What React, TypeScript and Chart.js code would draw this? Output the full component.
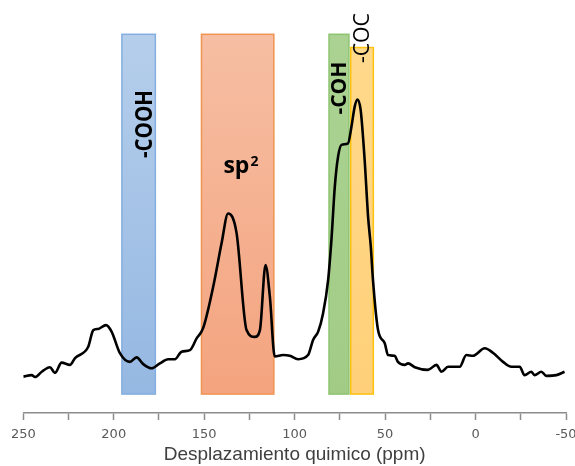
import React, { useEffect, useRef } from "react";
import { Chart, registerables } from "chart.js";

Chart.register(...registerables);

// Spectrum (chemical shift in ppm, intensity in arbitrary units)
const shiftPpm = [
  250, 245.4, 243.5, 239.8, 235.3, 232.5, 228.8, 224.2, 221.4, 214.1, 211.3, 208.6, 204.3, 201.2,
  196.6, 191.1, 187.4, 183.7, 179.1, 174.5, 169.9, 166.2, 162.5, 157.9, 154.2, 150.6, 145.0, 140.4,
  136.8, 132.1, 126.6, 122.0, 119.2, 116.1, 113.7, 111.0, 106.4, 102.7, 98.1, 92.6, 89.8, 87.0,
  84.3, 81.5, 79.6, 77.8, 76.0, 74.1, 70.5, 68.6, 66.8, 65.3, 63.5, 61.3, 59.4, 57.9, 56.7, 53.9,
  50.2, 48.4, 44.7, 42.9, 39.2, 37.3, 33.6, 26.3, 21.6, 18.9, 15.2, 8.8, 5.1, 1.4, -5.1, -9.6,
  -15.2, -19.8, -24.4, -27.1, -30.8, -32.6, -36.4, -39.1, -44.7, -49.2,
];
const intensity = [
  9.6, 10.0, 9.5, 10.9, 12.1, 10.6, 13.3, 12.7, 14.5, 17.5, 21.9, 22.2, 23.2, 21.5,
  15.8, 13.5, 14.7, 12.9, 11.8, 13.1, 14.2, 14.2, 16.2, 16.6, 19.7, 22.4, 33.4, 44.8,
  52.7, 47.5, 21.9, 20.1, 21.9, 39.1, 30.7, 14.9, 15.3, 15.1, 14.2, 15.3, 19.3, 21.5,
  26.3, 35.1, 46.2, 59.8, 67.7, 70.8, 71.2, 75.6, 80.9, 82.8, 80.0, 66.8, 51.8, 43.9, 35.1, 21.9,
  18.4, 15.3, 15.1, 13.5, 12.7, 13.1, 12.1, 11.4, 12.7, 10.9, 12.2, 12.2, 15.3, 15.1, 17.1, 15.9,
  13.5, 12.2, 12.2, 10.0, 10.9, 10.0, 10.9, 9.8, 10.0, 10.9,
];

// Highlighted regions
const bandStart = [195.5, 151.5, 81, 69];
const bandEnd = [177, 111.5, 70, 56.5];
const bandTop = [100, 100, 100, 96.5];
const bandBottom = [5, 5, 5, 5];
const bandTopColor = ["#B5CEEB", "#F6BEA3", "#ABD292", "#FFD98C"];
const bandBottomColor = ["#95B8E2", "#F4A47F", "#A2CC86", "#FFD079"];
const bandBorder = ["#85AEE0", "#F0944F", "#8DC46F", "#FFC20E"];

// Region labels
const labelText = ["-COOH", "-COH", "-COC"];
const labelPpm = [183.3, 75.6, 63.4];
const labelValue = [76.3, 85.8, 99.0];
const labelLength = [68, 53, 50];
const labelFont = ["bold 24px 'Open Sans'", "bold 21px 'Open Sans'", "21px 'Open Sans'"];
const spLabelPpm = 129.7;
const spLabelValue = 63.4;

const xTicks = [250, 225, 200, 175, 150, 125, 100, 75, 50, 25, 0, -25, -50];

const bandsPlugin = {
  id: "bands",
  beforeDatasetsDraw(chart: any) {
    const { ctx, scales } = chart;
    const x = scales.x;
    const y = scales.y;
    for (let i = 0; i < bandStart.length; i++) {
      const x1 = x.getPixelForValue(bandStart[i]);
      const x2 = x.getPixelForValue(bandEnd[i]);
      const y1 = y.getPixelForValue(bandTop[i]);
      const y2 = y.getPixelForValue(bandBottom[i]);
      const g = ctx.createLinearGradient(0, y1, 0, y2);
      g.addColorStop(0, bandTopColor[i]);
      g.addColorStop(1, bandBottomColor[i]);
      ctx.save();
      ctx.fillStyle = g;
      ctx.fillRect(x1, y1, x2 - x1, y2 - y1);
      ctx.strokeStyle = bandBorder[i];
      ctx.lineWidth = 1.5;
      ctx.strokeRect(x1, y1, x2 - x1, y2 - y1);
      ctx.restore();
    }
  },
  afterDatasetsDraw(chart: any) {
    const { ctx, scales } = chart;
    const x = scales.x;
    const y = scales.y;
    for (let i = 0; i < labelText.length; i++) {
      const cx = x.getPixelForValue(labelPpm[i]);
      const cy = y.getPixelForValue(labelValue[i]);
      ctx.save();
      ctx.translate(cx, cy);
      ctx.rotate(-Math.PI / 2);
      ctx.font = labelFont[i];
      const m = ctx.measureText(labelText[i]);
      ctx.scale(labelLength[i] / m.width, 1);
      ctx.fillStyle = "#000";
      ctx.textAlign = "center";
      ctx.textBaseline = "alphabetic";
      const off = (m.actualBoundingBoxAscent - m.actualBoundingBoxDescent) / 2;
      ctx.fillText(labelText[i], 0, off);
      ctx.restore();
    }
    // sp² label
    const sx = x.getPixelForValue(spLabelPpm);
    const sy = y.getPixelForValue(spLabelValue);
    ctx.save();
    ctx.fillStyle = "#000";
    ctx.textBaseline = "alphabetic";
    ctx.font = "bold 23px 'Open Sans'";
    const w1 = ctx.measureText("sp").width;
    ctx.font = "bold 14px 'Open Sans'";
    const w2 = ctx.measureText("2").width;
    const left = sx - (w1 + w2 + 1) / 2;
    ctx.font = "bold 23px 'Open Sans'";
    ctx.textAlign = "left";
    ctx.fillText("sp", left, sy);
    ctx.font = "bold 14px 'Open Sans'";
    ctx.fillText("2", left + w1 + 1, sy - 7);
    ctx.restore();
  },
};

export default function App() {
  const ref = useRef<HTMLCanvasElement>(null);
  useEffect(() => {
    if (!ref.current) return;
    const chart = new Chart(ref.current, {
      type: "line",
      data: {
        datasets: [
          {
            data: shiftPpm.map((p, i) => ({ x: p, y: intensity[i] })),
            borderColor: "#000000",
            borderWidth: 2.6,
            pointRadius: 0,
            cubicInterpolationMode: "monotone",
            fill: false,
          },
        ],
      },
      options: {
        responsive: false,
        animation: false,
        layout: { padding: { left: 23.3, right: 9, top: 34.3, bottom: 0 } },
        plugins: { legend: { display: false }, tooltip: { enabled: false } },
        scales: {
          x: {
            type: "linear",
            reverse: true,
            min: -50,
            max: 250,
            afterBuildTicks: (scale: any) => {
              scale.ticks = xTicks.map((v) => ({ value: v }));
            },
            afterFit: (scale: any) => {
              scale.height = 53;
              scale.paddingLeft = 0;
              scale.paddingRight = 0;
            },
            grid: {
              drawOnChartArea: false,
              drawTicks: true,
              tickLength: 7,
              tickWidth: 1.5,
              tickColor: "#8C8C8C",
            },
            border: { display: true, color: "#8C8C8C", width: 1.5 },
            ticks: {
              autoSkip: false,
              maxRotation: 0,
              padding: 7,
              color: "#595959",
              font: { family: "'DejaVu Sans'", size: 13 },
              callback: (v: any) => (Number(v) % 50 === 0 ? String(v) : ""),
            },
            title: {
              display: true,
              text: "Desplazamiento quimico (ppm)",
              color: "#404040",
              font: { family: "'Liberation Sans'", size: 19 },
              padding: { top: 0, bottom: 0 },
            },
          },
          y: { display: false, min: 0, max: 100 },
        },
      },
      plugins: [bandsPlugin],
    });
    return () => chart.destroy();
  }, []);
  return (
    <div style={{ position: "fixed", left: 0, top: 0, width: 575, height: 466, background: "#fff" }}>
      <canvas ref={ref} width={575} height={466} />
    </div>
  );
}
